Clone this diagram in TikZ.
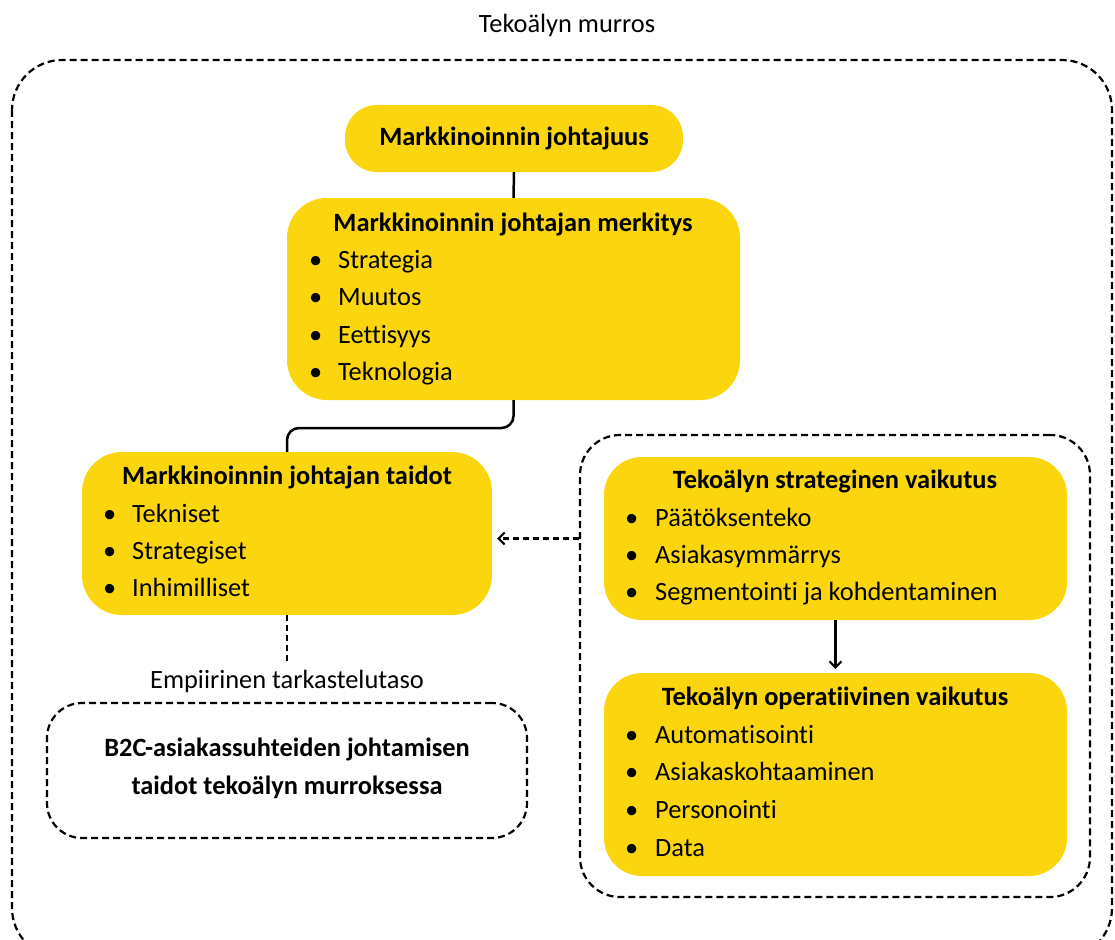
\documentclass[tikz,border=0pt]{standalone}
\usepackage{fontspec}
\setmainfont{Carlito}[Ligatures=NoCommon]
\usetikzlibrary{arrows.meta,calc}
\definecolor{ylw}{RGB}{251,214,15}
\newcommand\bsz{\fontsize{26.4}{38}\selectfont}
\begin{document}
\begin{tikzpicture}[x=1pt,y=-1pt,
  font=\bsz,
  ybox/.style={fill=ylw,draw=none,rounded corners=#1,inner sep=0pt},
  ybox/.default=38pt,
  dbox/.style={draw,line width=2.2pt,dash pattern=on 7pt off 4pt,rounded corners=#1,inner sep=0pt},
  dbox/.default=40pt,
  ttl/.style={font=\bsz\bfseries,anchor=base,inner sep=0pt},
  itm/.style={anchor=base west,inner sep=0pt},
  link/.style={draw,line width=2.5pt,rounded corners=12pt},
  dlink/.style={draw,line width=2.4pt,dash pattern=on 6pt off 4pt},
  arr/.style={-{Straight Barb[length=6pt,width=12pt,line width=2pt]}},
]
\clip (0,0) rectangle (1115,939);
% title and outer frame
\node[anchor=base,inner sep=0pt] (title) at (567,33) {Tekoälyn murros};
\draw[line width=2.2pt,dash pattern=on 7pt off 4pt,rounded corners=50pt] (12,60) rectangle (1112,958);

% boxes
\node[ybox=32pt,minimum width=338pt,minimum height=67pt] (b1) at (514,138.5) {};
\node[ybox=40pt,minimum width=453pt,minimum height=202pt] (b2) at (513.5,299) {};
\node[ybox=40pt,minimum width=410pt,minimum height=163pt] (b3) at (287,533.5) {};
\node[dbox=35pt,minimum width=480pt,minimum height=135pt] (b4) at (287,770.5) {};
\node[dbox=40pt,minimum width=510pt,minimum height=462pt] (rb) at (835,666) {};
\node[ybox=38pt,minimum width=463pt,minimum height=163pt] (b5) at (835.5,538.5) {};
\node[ybox=38pt,minimum width=463pt,minimum height=203pt] (b6) at (835.5,774.5) {};

% texts
\node[ttl] (b1t) at (514,145) {Markkinoinnin johtajuus};

\node[ttl] (b2t) at (513,231) {Markkinoinnin johtajan merkitys};
\node[itm] (b2a) at (309,268) {\makebox[29pt][l]{\textbullet}Strategia};
\node[itm] (b2b) at (309,305) {\makebox[29pt][l]{\textbullet}Muutos};
\node[itm] (b2c) at (309,343) {\makebox[29pt][l]{\textbullet}Eettisyys};
\node[itm] (b2d) at (309,380) {\makebox[29pt][l]{\textbullet}Teknologia};

\node[ttl] (b3t) at (287,484) {Markkinoinnin johtajan taidot};
\node[itm] (b3a) at (103,522) {\makebox[29pt][l]{\textbullet}Tekniset};
\node[itm] (b3b) at (103,559) {\makebox[29pt][l]{\textbullet}Strategiset};
\node[itm] (b3c) at (103,596) {\makebox[29pt][l]{\textbullet}Inhimilliset};

\node[anchor=base,inner sep=0pt] (lbl) at (287,688) {Empiirinen tarkastelutaso};

\node[ttl] (b4a) at (287,756) {B2C-asiakassuhteiden johtamisen};
\node[ttl] (b4b) at (287,794) {taidot tekoälyn murroksessa};

\node[ttl] (b5t) at (835,488) {Tekoälyn strateginen vaikutus};
\node[itm] (b5a) at (625,526) {\makebox[30pt][l]{\textbullet}Päätöksenteko};
\node[itm] (b5b) at (625,563) {\makebox[30pt][l]{\textbullet}Asiakasymmärrys};
\node[itm] (b5c) at (625,600) {\makebox[30pt][l]{\textbullet}Segmentointi ja kohdentaminen};

\node[ttl] (b6t) at (835,705) {Tekoälyn operatiivinen vaikutus};
\node[itm] (b6a) at (625,743) {\makebox[30pt][l]{\textbullet}Automatisointi};
\node[itm] (b6b) at (625,780) {\makebox[30pt][l]{\textbullet}Asiakaskohtaaminen};
\node[itm] (b6c) at (625,818) {\makebox[30pt][l]{\textbullet}Personointi};
\node[itm] (b6d) at (625,856) {\makebox[30pt][l]{\textbullet}Data};

% connectors
\draw[link] (b1.south) -- (b2.north);
\coordinate (j) at (0,428);
\draw[link] (b2.south) -- (b2.south |- j) -- (b3.north |- j) -- (b3.north);
\draw[dlink] (b3.south) -- ([yshift=6pt]b3.south |- lbl.north);
\draw[link,arr] (b5.south) -- ([yshift=4pt]b6.north);
\draw[dlink,arr] (b5.west -| rb.west) -- ([xshift=5pt]b5.west -| b3.east);
\end{tikzpicture}
\end{document}
